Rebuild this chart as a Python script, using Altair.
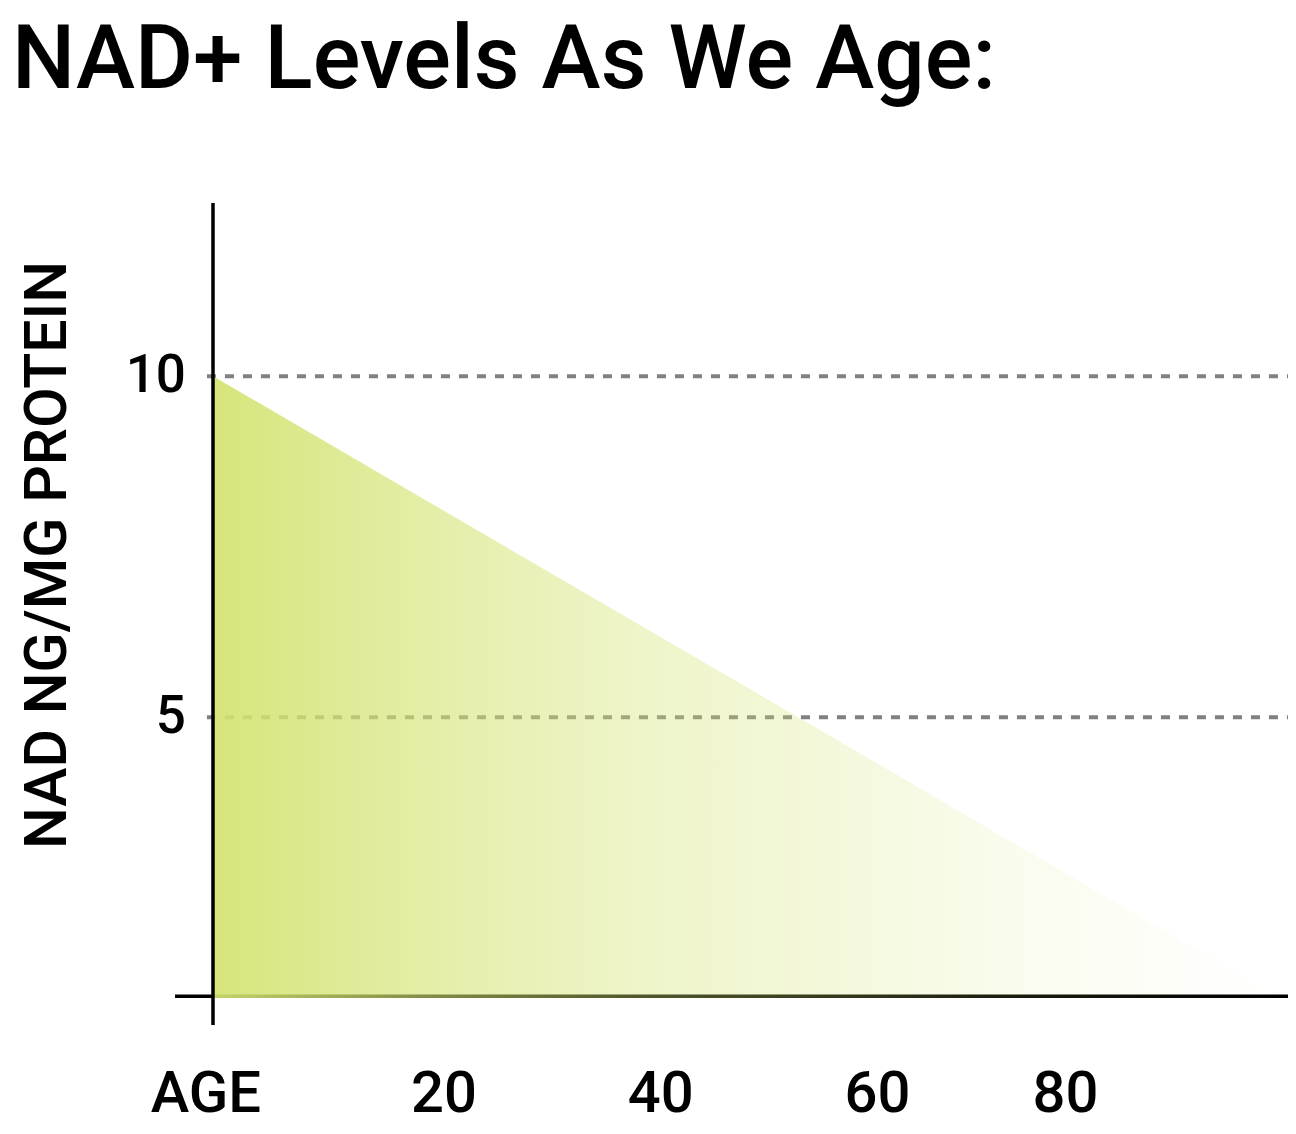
import altair as alt
import pandas as pd

# ---- data ----
ages = [0, 96.7]            # age axis (chart units)
nad_levels = [10, 0.91]     # NAD ng/mg protein
baseline_value = 0.91
grid_values = [5, 10]
y_tick_values = [10, 5]
y_tick_labels = ["10", "5"]
x_label_positions = [-0.64, 21.0, 40.7, 60.4, 77.5]
x_label_texts = ["AGE", "20", "40", "60", "80"]

X_LO, X_HI = -3.4545, 97.73
Y_LO, Y_HI = 0.487, 12.54
PLOT_W, PLOT_H = 1113, 822
FONT = "Roboto"
WEIGHT = 500

xs = alt.Scale(domain=[X_LO, X_HI], nice=False, zero=False)
ys = alt.Scale(domain=[Y_LO, Y_HI], nice=False, zero=False)

area_df = pd.DataFrame({"age": ages, "nad": nad_levels,
                        "base": [baseline_value - 0.026] * len(ages)})
grid_df = pd.DataFrame({"v": grid_values, "x0": [-0.55] * 2, "x1": [X_HI] * 2})
ytick_df = pd.DataFrame({"v": y_tick_values, "t": y_tick_labels, "x0": [0, 0]})
xlab_df = pd.DataFrame({"p": x_label_positions, "t": x_label_texts})
line_df = pd.DataFrame({
    "x0": [0], "x1": [X_HI], "xl": [X_LO],
    "yb0": [baseline_value], "ylo": [Y_LO], "yhi": [Y_HI],
})
one = pd.DataFrame({"k": [0]})

area_grad = alt.Gradient(
    gradient="linear", x1=0, y1=0, x2=1, y2=0,
    stops=[
        alt.GradientStop(offset=0, color="rgba(212,227,113,0.93)"),
        alt.GradientStop(offset=0.2, color="rgba(212,227,113,0.62)"),
        alt.GradientStop(offset=0.4, color="rgba(212,227,113,0.38)"),
        alt.GradientStop(offset=0.55, color="rgba(212,227,113,0.28)"),
        alt.GradientStop(offset=0.75, color="rgba(212,227,113,0.12)"),
        alt.GradientStop(offset=1, color="rgba(212,227,113,0)"),
    ],
)

grid = alt.Chart(grid_df).mark_rule(
    color="#808080", strokeWidth=4, strokeDash=[9, 9]
).encode(
    x=alt.X("x0:Q", scale=xs, axis=None),
    x2="x1:Q",
    y=alt.Y("v:Q", scale=ys, axis=None),
)

base_line = alt.Chart(line_df).mark_rule(color="#000000", strokeWidth=3.5).encode(
    x=alt.X("xl:Q", scale=xs, axis=None),
    x2="x1:Q",
    y=alt.Y("yb0:Q", scale=ys, axis=None),
)

area = alt.Chart(area_df).mark_area(color=area_grad).encode(
    x=alt.X("age:Q", scale=xs, axis=None),
    y=alt.Y("nad:Q", scale=ys, axis=None),
    y2="base:Q",
)

y_axis = alt.Chart(line_df).mark_rule(color="#000000", strokeWidth=3.5).encode(
    x=alt.X("x0:Q", scale=xs, axis=None),
    y=alt.Y("ylo:Q", scale=ys, axis=None),
    y2="yhi:Q",
)

y_ticks = alt.Chart(ytick_df).mark_text(
    align="right", baseline="middle", dx=-27, fontSize=53, font=FONT,
    fontWeight=WEIGHT, color="#000000"
).encode(
    x=alt.X("x0:Q", scale=xs, axis=None),
    y=alt.Y("v:Q", scale=ys, axis=None),
    text="t:N",
)

x_labels = alt.Chart(xlab_df).mark_text(
    align="center", baseline="alphabetic", fontSize=58, font=FONT,
    fontWeight=WEIGHT, color="#000000"
).encode(
    x=alt.X("p:Q", scale=xs, axis=None),
    y=alt.value(909),
    text="t:N",
)

y_title = alt.Chart(one).mark_text(
    text="NAD NG/MG PROTEIN", angle=270, align="center", baseline="middle",
    fontSize=59, font=FONT, fontWeight=WEIGHT, color="#000000"
).encode(x=alt.value(-127), y=alt.value(352))

title = alt.Chart(one).mark_text(
    text="NAD+ Levels As We Age:", align="left", baseline="alphabetic",
    fontSize=89, font=FONT, fontWeight=WEIGHT, color="#000000"
).encode(x=alt.value(-163), y=alt.value(-115))

chart = alt.layer(
    grid, base_line, area, y_axis, y_ticks, x_labels, y_title, title
).properties(
    width=PLOT_W, height=PLOT_H,
    autosize=alt.AutoSizeParams(type="none"),
    padding={"left": 167, "top": 195, "right": 0, "bottom": 100},
    background="#ffffff",
).configure_view(stroke=None)

chart.save("out.html", embed_options={"renderer": "svg", "actions": False})
